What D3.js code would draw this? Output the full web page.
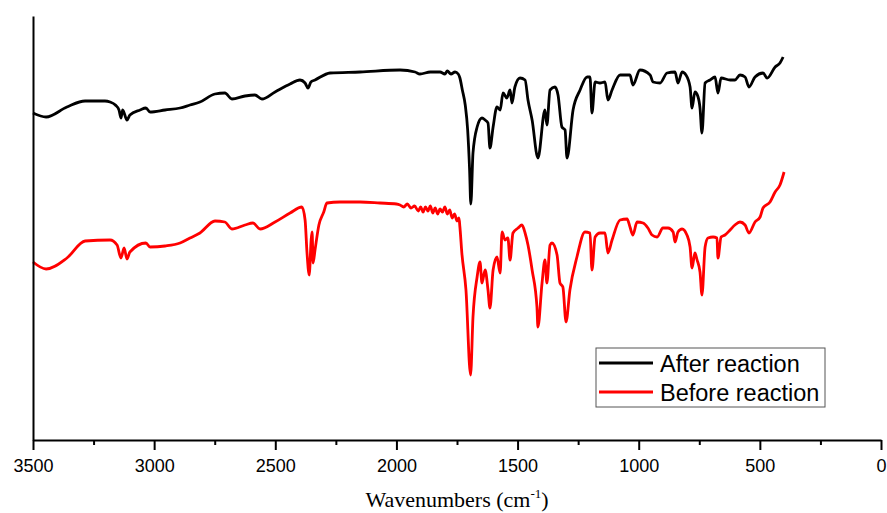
<!DOCTYPE html>
<html>
<head>
<meta charset="utf-8">
<script src="https://cdn.jsdelivr.net/npm/d3@7"></script>
<style>
  body { margin: 0; background: #ffffff; }
</style>
</head>
<body>
<script>

// FTIR spectra, [wavenumber (cm-1), transmittance (a.u.)]
var afterReaction = [
  [3500,327],[3446,323],[3360,333],[3285,339],[3203,339],[3182,338],[3160,335],[3145,330],[3137,322],[3130,330],
  [3112,320],[3100,325],[3058,330],[3034,332],[3017,328],[2955,330],[2893,332],[2852,335],[2811,338],[2749,346],
  [2708,347],[2679,341],[2625,344],[2584,345],[2555,341],[2501,348],[2439,356],[2398,360],[2377,357],[2365,352],
  [2353,358],[2336,360],[2274,367],[2150,368],[1985,370],[1923,368],[1903,366],[1860,368],[1820,368],[1800,366],
  [1790,369],[1775,366],[1758,368],[1745,366],[1738,362],[1728,350],[1716,335],[1706,310],[1698,270],[1693,236],
  [1684,287],[1667,313],[1647,322],[1634,320],[1622,317],[1614,292],[1601,313],[1585,333],[1572,330],[1560,347],
  [1544,342],[1531,350],[1523,337],[1511,353],[1490,362],[1469,360],[1457,340],[1440,320],[1416,282],[1387,330],
  [1379,315],[1366,350],[1346,353],[1333,345],[1317,313],[1304,310],[1296,282],[1271,330],[1242,350],[1213,363],
  [1201,363],[1193,327],[1180,358],[1160,357],[1139,358],[1127,340],[1110,350],[1077,365],[1036,365],[1024,355],
  [995,370],[953,365],[941,358],[912,357],[883,367],[850,368],[838,357],[821,368],[805,365],[788,353],
  [780,332],[768,348],[755,343],[747,332],[739,307],[726,357],[706,360],[685,363],[673,347],[660,362],
  [623,360],[603,360],[582,365],[561,363],[545,353],[520,363],[487,367],[470,362],[437,373],[417,377],[404,383]
];

var beforeReaction = [
  [3500,178],[3446,171],[3360,182],[3285,199],[3182,200],[3153,195],[3137,182],[3124,192],[3112,181],[3100,188],
  [3034,197],[3017,193],[2955,194],[2893,197],[2852,202],[2811,207],[2749,219],[2708,218],[2679,211],[2625,215],
  [2592,217],[2563,211],[2501,218],[2439,227],[2390,233],[2377,220],[2369,187],[2360,165],[2352,200],[2348,208],
  [2344,177],[2336,190],[2320,215],[2300,228],[2287,237],[2233,238],[2150,238],[2068,237],[2000,236],[1985,235],
  [1970,233],[1955,236],[1940,232],[1925,234],[1910,229],[1900,233],[1890,228],[1880,233],[1870,229],[1860,234],
  [1850,227],[1840,232],[1830,226],[1820,231],[1810,228],[1800,233],[1790,226],[1780,230],[1770,222],[1760,226],
  [1750,219],[1742,222],[1738,213],[1730,187],[1713,150],[1694,65],[1684,123],[1667,163],[1655,178],[1647,157],
  [1634,170],[1622,150],[1614,132],[1601,170],[1585,183],[1572,167],[1564,208],[1552,200],[1540,202],[1531,180],
  [1519,207],[1498,212],[1482,215],[1469,207],[1457,195],[1440,170],[1420,133],[1416,113],[1399,157],[1387,180],
  [1379,157],[1366,195],[1358,197],[1337,185],[1325,157],[1313,153],[1300,118],[1284,150],[1255,183],[1222,208],
  [1201,207],[1193,170],[1180,203],[1160,207],[1139,207],[1127,187],[1110,200],[1077,220],[1048,221],[1036,213],
  [1024,205],[1007,218],[982,217],[962,212],[945,205],[924,203],[900,212],[879,212],[858,208],[850,198],
  [838,208],[821,211],[801,205],[788,193],[780,172],[768,187],[759,180],[747,168],[739,145],[726,193],
  [714,202],[693,203],[677,202],[673,182],[660,203],[644,205],[623,210],[603,215],[582,218],[561,215],
  [545,207],[520,218],[499,223],[487,232],[458,238],[437,248],[417,255],[400,268]
];

var majorTicks = [3500, 3000, 2500, 2000, 1500, 1000, 500, 0];
var minorTicks = [3250, 2750, 2250, 1750, 1250, 750, 250];
var seriesNames = ["After reaction", "Before reaction"];
var seriesColors = ["#000000", "#ff0000"];

var svg_width = 887, svg_height = 513;
var margin = {left: 33, right: 6, top: 16, bottom: 73};

function start()
{
  var svg = d3.select("body").append("svg")
              .attr("width", svg_width)
              .attr("height", svg_height);

  var plot_w = svg_width - margin.left - margin.right;
  var plot_h = svg_height - margin.top - margin.bottom;

  var xScale = d3.scaleLinear().domain([3500, 0]).range([0, plot_w]);
  var yScale = d3.scaleLinear().domain([0, 424]).range([plot_h, 0]);

  var chartGroup = svg.append("g")
                      .attr("transform", "translate(" + margin.left + "," + margin.top + ")");

  // Spectra
  var line = d3.line()
               .curve(d3.curveMonotoneX)
               .x(function(d) { return xScale(d[0]); })
               .y(function(d) { return yScale(d[1]); });

  [afterReaction, beforeReaction].forEach(function(data, i)
  {
    chartGroup.append("path")
              .datum(data)
              .attr("d", line)
              .style("fill", "none")
              .style("stroke", seriesColors[i])
              .style("stroke-width", 2.8)
              .style("stroke-linejoin", "round");
  });

  // Minor ticks
  chartGroup.append("g")
            .attr("transform", "translate(0," + plot_h + ")")
            .call(d3.axisBottom(xScale).tickValues(minorTicks).tickSize(5).tickSizeOuter(0).tickFormat(""))
            .call(function(g) { g.select(".domain").remove(); })
            .selectAll("line").style("stroke-width", 2);

  // Major ticks and x axis
  var xAxisG = chartGroup.append("g")
            .attr("transform", "translate(0," + plot_h + ")")
            .call(d3.axisBottom(xScale).tickValues(majorTicks).tickSize(10).tickSizeOuter(0)
                    .tickPadding(9).tickFormat(d3.format("d")));
  xAxisG.selectAll("line").style("stroke-width", 2);
  xAxisG.select(".domain").style("stroke-width", 2);
  xAxisG.selectAll("text")
        .style("font-family", "Arial, 'Liberation Sans', sans-serif")
        .style("font-size", "18px")
        .style("fill", "#000");

  // y axis line (no ticks)
  var yAxisG = chartGroup.append("g")
            .call(d3.axisLeft(yScale).tickValues([]).tickSizeOuter(0));
  yAxisG.select(".domain").style("stroke-width", 2);

  // x axis title
  var title = svg.append("text")
                 .attr("x", margin.left + plot_w * 0.5)
                 .attr("y", 507)
                 .attr("text-anchor", "middle")
                 .style("font-family", "'Times New Roman', 'Liberation Serif', serif")
                 .style("font-size", "22px");
  title.append("tspan").text("Wavenumbers (cm");
  title.append("tspan").attr("dy", -9).style("font-size", "13px").text("-1");
  title.append("tspan").attr("dy", 9).text(")");

  // Legend
  var legend = svg.append("g").attr("transform", "translate(596,348)");
  legend.append("rect")
        .attr("width", 229)
        .attr("height", 59)
        .style("fill", "white")
        .style("stroke", "#555")
        .style("stroke-width", 1);

  seriesNames.forEach(function(name, i)
  {
    var yy = 15 + i * 29;
    legend.append("line")
          .attr("x1", 3).attr("x2", 57)
          .attr("y1", yy).attr("y2", yy)
          .style("stroke", seriesColors[i])
          .style("stroke-width", 2.8);
    legend.append("text")
          .attr("x", 64)
          .attr("y", yy + 9)
          .text(name)
          .style("font-family", "Arial, 'Liberation Sans', sans-serif")
          .style("font-size", "23.5px");
  });
}

start();
</script>
</body>
</html>
